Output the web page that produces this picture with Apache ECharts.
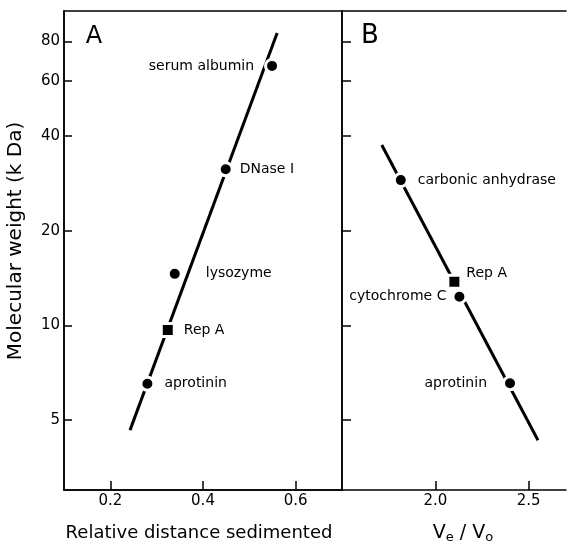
<!DOCTYPE html>
<html>
<head>
<meta charset="utf-8">
<script src="https://cdn.jsdelivr.net/npm/echarts@6/dist/echarts.min.js"></script>
<style>
html,body{margin:0;padding:0;background:#fff;}
#chart{width:567px;height:547px;}
</style>
</head>
<body>
<div id="chart"></div>
<script>
// ---- Data ----
// Panel A: sedimentation
const stdA_names = ['serum albumin', 'DNase I', 'lysozyme', 'aprotinin'];
const stdA_x     = [0.549, 0.449, 0.339, 0.280];
const stdA_mw    = [66.9, 31.4, 14.6, 6.53];
const repA_A_x   = [0.324];
const repA_A_mw  = [9.68];
const fitA_x     = [0.2425, 0.560];
const fitA_mw    = [4.65, 85.1];

// Panel B: gel filtration
const stdB_names = ['carbonic anhydrase', 'cytochrome C', 'aprotinin'];
const stdB_x     = [1.815, 2.129, 2.400];
const stdB_mw    = [29.0, 12.35, 6.55];
const repA_B_x   = [2.102];
const repA_B_mw  = [13.78];
const fitB_x     = [1.713, 2.550];
const fitB_mw    = [37.5, 4.32];

// Axis ticks
const yTicks  = [5, 10, 20, 40, 60, 80];
const xTicksA = [0.2, 0.4, 0.6];
const xTicksB = [2.0, 2.5];

// Label placement (style, not data)
const labA = [
  {position: 'left',  distance: 10},
  {position: 'right', distance: 6},
  {position: 'right', distance: 23},
  {position: 'right', distance: 9}
];
const labB = [
  {position: 'right', distance: 9},
  {position: 'left',  distance: 5},
  {position: 'left',  distance: 15}
];

const FONT = 'DejaVu Sans';
const BLACK = '#000';

function pts(xs, ys) { return xs.map((x, i) => [x, ys[i]]); }

const axisLineStyle = {color: BLACK, width: 1.5};

const chart = echarts.init(document.getElementById('chart'), null, {renderer: 'canvas'});

const labelCommon = {
  show: true,
  formatter: '{b}',
  color: BLACK,
  fontFamily: FONT,
  fontSize: 14
};

const option = {
  animation: false,
  backgroundColor: '#fff',
  grid: [
    {left: 64, top: 11, width: 278, height: 479, show: true, borderColor: BLACK, borderWidth: 1.5, backgroundColor: 'transparent'},
    {left: 342, top: 11, width: 224, height: 479, show: false}
  ],
  xAxis: [
    {
      gridIndex: 0, type: 'value', min: 0.1, max: 0.7,
      axisLine: {show: true, onZero: false, lineStyle: axisLineStyle},
      axisTick: {show: true, inside: true, length: 9, customValues: xTicksA, lineStyle: axisLineStyle},
      axisLabel: {show: true, customValues: xTicksA, formatter: v => Number(v).toFixed(1), color: BLACK, fontFamily: FONT, fontSize: 15, margin: 4},
      splitLine: {show: false}
    },
    {
      gridIndex: 1, type: 'value', min: 1.5, max: 2.7,
      axisLine: {show: true, onZero: false, lineStyle: axisLineStyle},
      axisTick: {show: true, inside: true, length: 9, customValues: xTicksB, lineStyle: axisLineStyle},
      axisLabel: {show: true, customValues: xTicksB, formatter: v => Number(v).toFixed(1), color: BLACK, fontFamily: FONT, fontSize: 15, margin: 4},
      splitLine: {show: false}
    },
    {
      gridIndex: 1, type: 'value', min: 1.5, max: 2.7, position: 'top',
      axisLine: {show: true, onZero: false, lineStyle: axisLineStyle},
      axisTick: {show: false}, axisLabel: {show: false}, splitLine: {show: false}
    }
  ],
  yAxis: [
    {
      gridIndex: 0, type: 'log', logBase: 10, min: 3, max: 100,
      axisLine: {show: true, onZero: false, lineStyle: axisLineStyle},
      axisTick: {show: true, inside: true, length: 8, customValues: yTicks, lineStyle: axisLineStyle},
      axisLabel: {show: true, customValues: yTicks, formatter: v => String(Math.round(v)), color: BLACK, fontFamily: FONT, fontSize: 15, margin: 4},
      splitLine: {show: false}, minorTick: {show: false}
    },
    {
      gridIndex: 1, type: 'log', logBase: 10, min: 3, max: 100,
      axisLine: {show: true, onZero: false, lineStyle: axisLineStyle},
      axisTick: {show: true, inside: true, length: 9, customValues: yTicks, lineStyle: axisLineStyle},
      axisLabel: {show: false},
      splitLine: {show: false}
    }
  ],
  series: [
    {
      type: 'line', xAxisIndex: 0, yAxisIndex: 0, data: pts(fitA_x, fitA_mw),
      symbol: 'none', lineStyle: {color: BLACK, width: 3}, z: 2, silent: true
    },
    {
      type: 'scatter', xAxisIndex: 0, yAxisIndex: 0, symbol: 'circle', symbolSize: 13,
      itemStyle: {color: BLACK, borderColor: '#fff', borderWidth: 3, opacity: 1},
      data: stdA_x.map((x, i) => ({value: [x, stdA_mw[i]], name: stdA_names[i], label: Object.assign({}, labA[i])})),
      label: labelCommon, z: 3
    },
    {
      type: 'scatter', xAxisIndex: 0, yAxisIndex: 0, symbol: 'rect', symbolSize: 13,
      itemStyle: {color: BLACK, borderColor: '#fff', borderWidth: 3, opacity: 1},
      data: repA_A_x.map((x, i) => ({value: [x, repA_A_mw[i]], name: 'Rep A'})),
      label: Object.assign({}, labelCommon, {position: 'right', distance: 8}), z: 3
    },
    {
      type: 'line', xAxisIndex: 1, yAxisIndex: 1, data: pts(fitB_x, fitB_mw),
      symbol: 'none', lineStyle: {color: BLACK, width: 3}, z: 2, silent: true
    },
    {
      type: 'scatter', xAxisIndex: 1, yAxisIndex: 1, symbol: 'circle', symbolSize: 13,
      itemStyle: {color: BLACK, borderColor: '#fff', borderWidth: 3, opacity: 1},
      data: stdB_x.map((x, i) => ({value: [x, stdB_mw[i]], name: stdB_names[i], label: Object.assign({}, labB[i])})),
      label: labelCommon, z: 3
    },
    {
      type: 'scatter', xAxisIndex: 1, yAxisIndex: 1, symbol: 'rect', symbolSize: 13,
      itemStyle: {color: BLACK, borderColor: '#fff', borderWidth: 3, opacity: 1},
      data: repA_B_x.map((x, i) => ({value: [x, repA_B_mw[i]], name: 'Rep A'})),
      label: Object.assign({}, labelCommon, {position: 'right', distance: 4, offset: [0, -8]}), z: 4
    }
  ],
  graphic: [
    {type: 'text', x: 16, y: 241, rotation: Math.PI / 2,
     style: {text: 'Molecular weight (k Da)', font: '20px "DejaVu Sans"', fill: BLACK, align: 'center', verticalAlign: 'middle'}},
    {type: 'text', x: 199, y: 533,
     style: {text: 'Relative distance sedimented', font: '18px "DejaVu Sans"', fill: BLACK, align: 'center', verticalAlign: 'middle'}},
    {type: 'text', x: 463, y: 533,
     style: {text: '{v|V}{s|e}{v| / V}{s|o}', fill: BLACK, align: 'center', verticalAlign: 'middle',
             rich: {v: {fontFamily: FONT, fontSize: 19, fill: BLACK}, s: {fontFamily: FONT, fontSize: 13, fill: BLACK, padding: [9, 0, 0, 0]}}}},
    {type: 'text', x: 94, y: 37,
     style: {text: 'A', font: '24px "DejaVu Sans"', fill: BLACK, align: 'center', verticalAlign: 'middle'}},
    {type: 'text', x: 370, y: 36,
     style: {text: 'B', font: '26px "DejaVu Sans"', fill: BLACK, align: 'center', verticalAlign: 'middle'}}
  ]
};

chart.setOption(option);
</script>
</body>
</html>
